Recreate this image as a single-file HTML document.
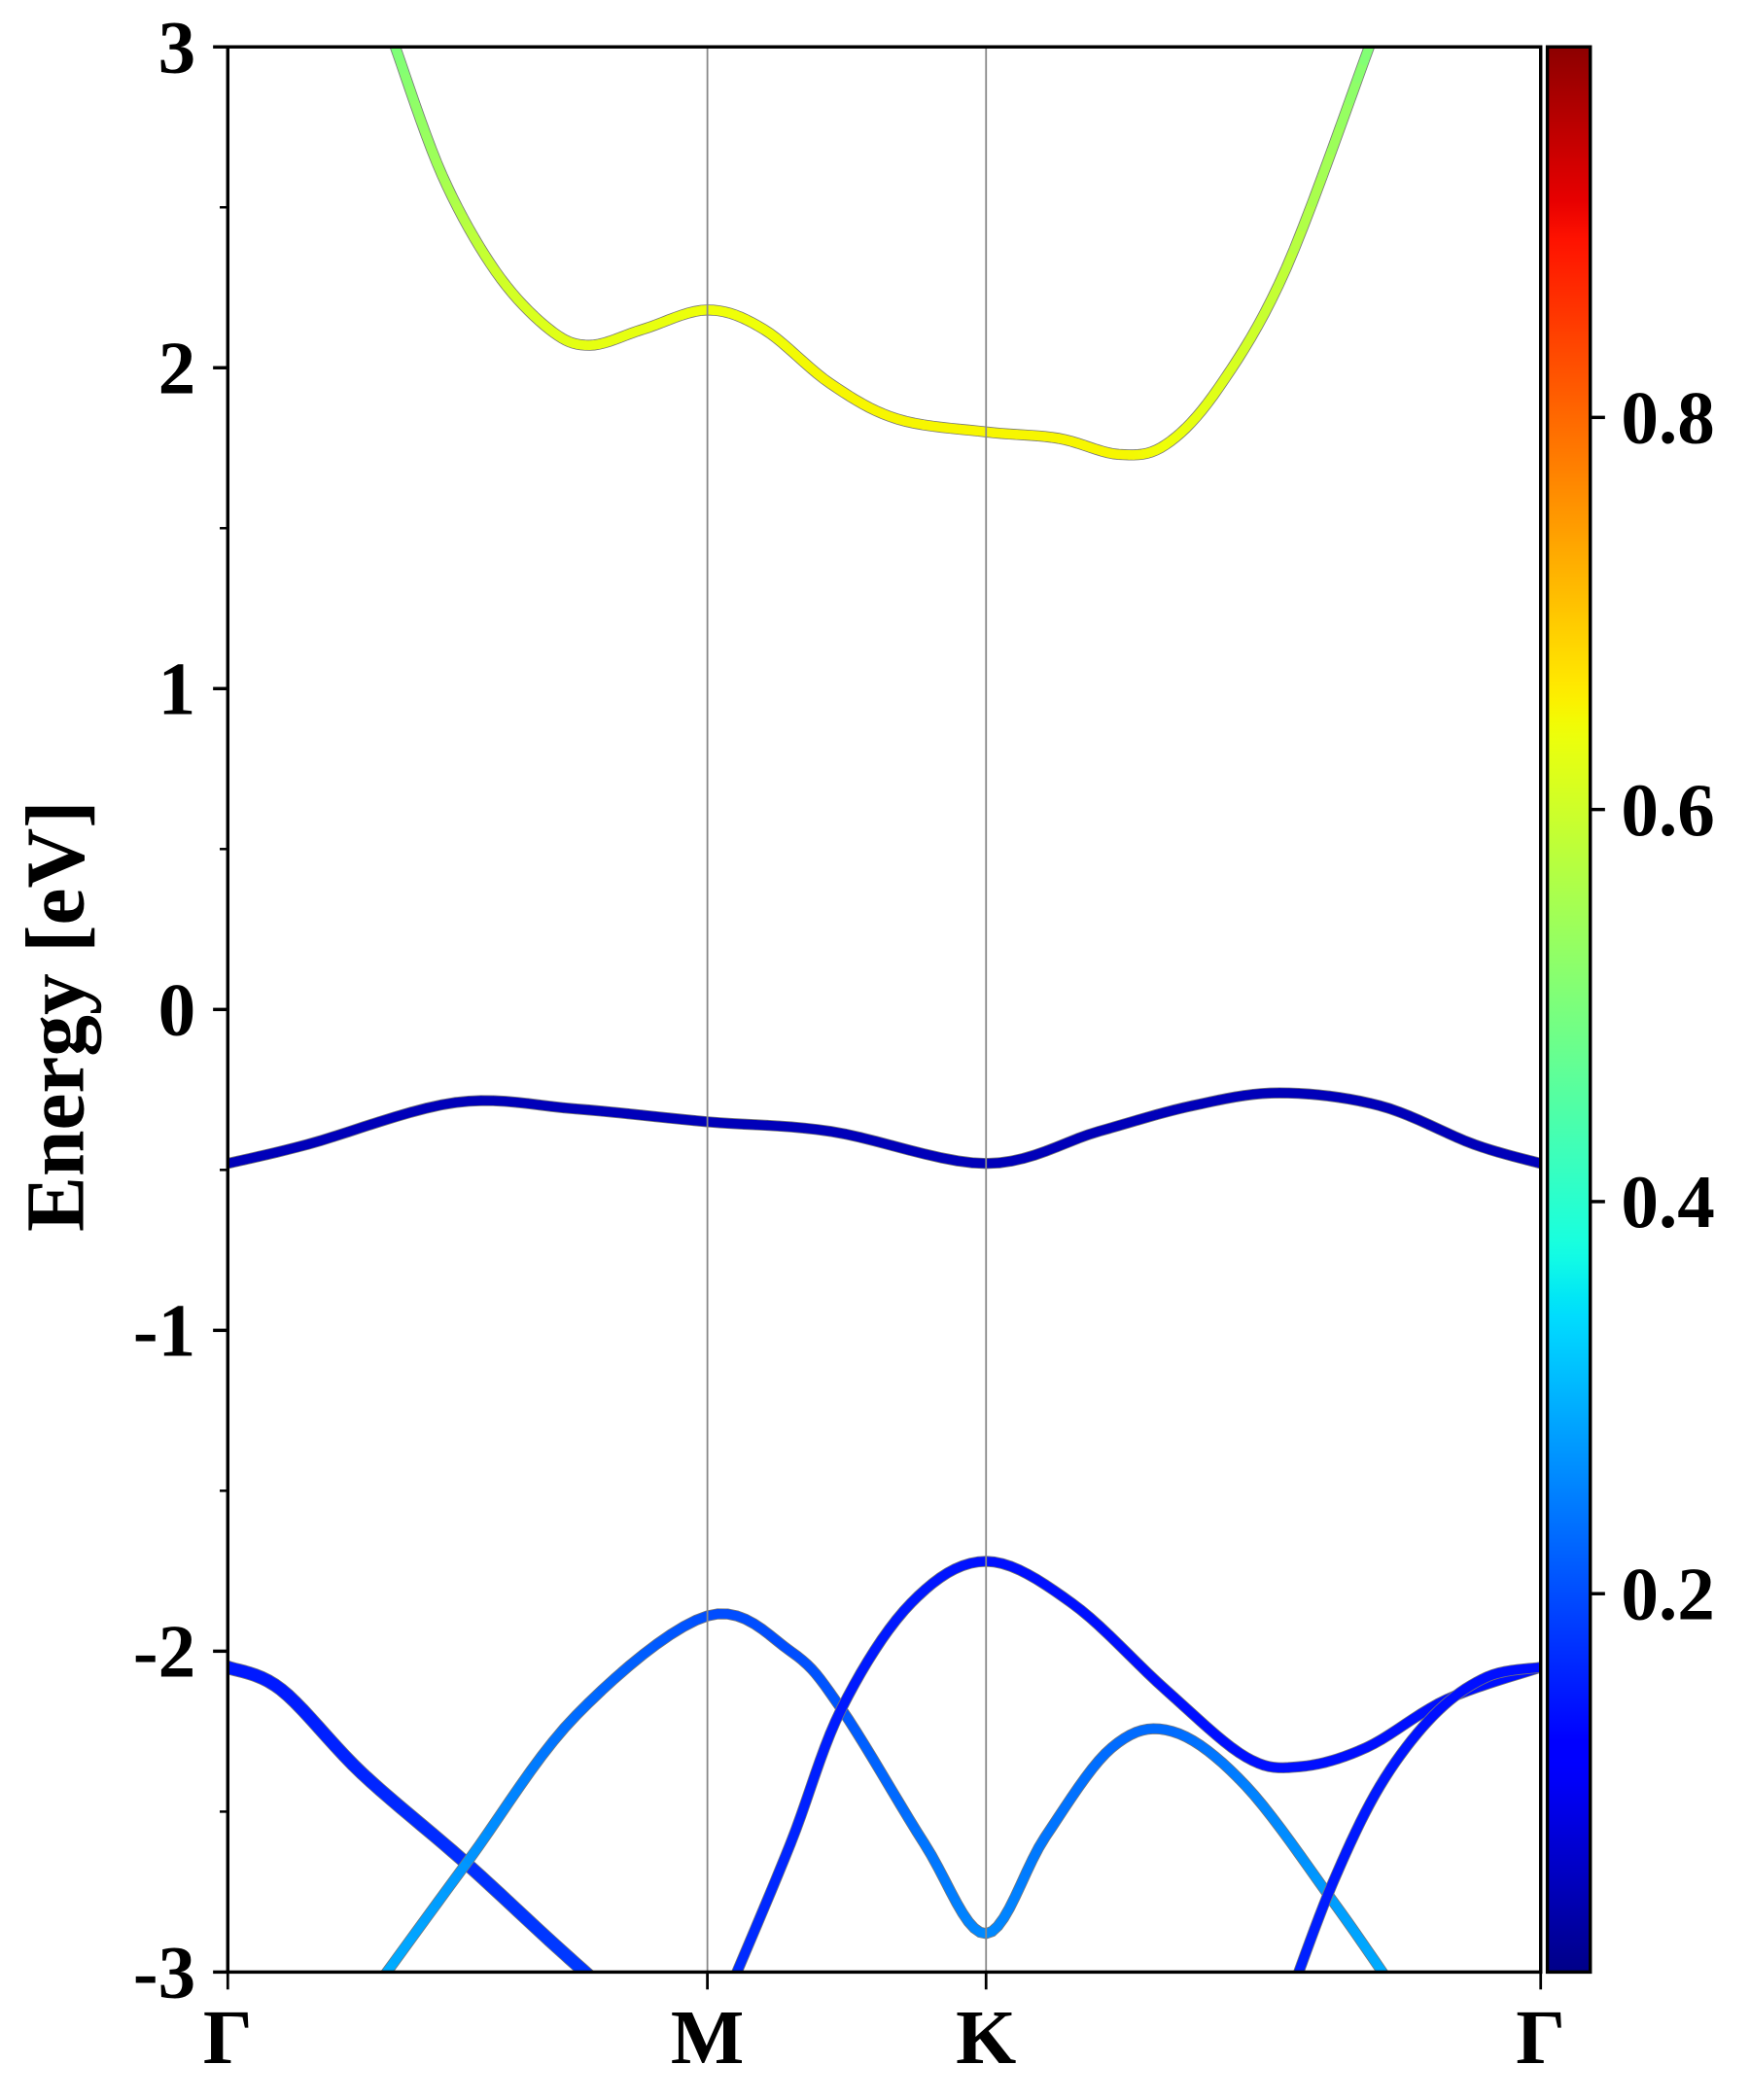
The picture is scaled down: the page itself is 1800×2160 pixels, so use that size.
<!DOCTYPE html>
<html><head><meta charset="utf-8"><style>
html,body{margin:0;padding:0;background:#fff;}
svg{display:block;}
text{font-family:"Liberation Serif","Times New Roman",serif;font-weight:bold;fill:#000;}
</style></head><body>
<svg id="chart" xmlns="http://www.w3.org/2000/svg" width="1800" height="2160" viewBox="0 0 1306.2 1567.5">
<defs>
<linearGradient id="jet" x1="0" y1="1" x2="0" y2="0"></linearGradient>
<clipPath id="plotclip"><rect x="170" y="35" width="980" height="1437"/></clipPath>
</defs>
<g id="bands" clip-path="url(#plotclip)"></g>
<g id="axes"></g>
</svg>
<script>
const kLabels = ["Γ","M","K","Γ"];
const kTicks = [0, 358, 566, 980];
const yTicks = [-3,-2,-1,0,1,2,3];
const yMinor = [-2.5,-1.5,-0.5,0.5,1.5,2.5];
const cbTicks = [0.2,0.4,0.6,0.8];
const cbMin = 0.007, cbMax = 0.989;

const condK = [125,160,200,240,270,310,358,400,450,500,566,620,665,700,740,790,852];
const condE = [3.0,2.6,2.3,2.12,2.07,2.12,2.18,2.12,1.95,1.84,1.80,1.78,1.73,1.76,1.94,2.31,3.0];
const condW = [0.5,0.55,0.6,0.62,0.63,0.63,0.64,0.64,0.65,0.65,0.65,0.65,0.65,0.64,0.62,0.58,0.5];

const valK = [0,60,170,260,358,450,566,650,720,785,860,930,980];
const valE = [-0.48,-0.42,-0.29,-0.31,-0.35,-0.38,-0.48,-0.38,-0.3,-0.26,-0.3,-0.42,-0.48];
const valW = [0.05,0.05,0.05,0.05,0.05,0.05,0.05,0.05,0.05,0.05,0.05,0.05,0.05];

const bandAK = [0,40,100,175,240,280];
const bandAE = [-2.05,-2.12,-2.38,-2.65,-2.9,-3.05];
const bandAW = [0.15,0.15,0.16,0.17,0.18,0.18];

const bandBK = [110,180,260,358,420,458,520,566,610,660,705,760,825,870];
const bandBE = [-3.05,-2.65,-2.2,-1.89,-2.0,-2.18,-2.6,-2.88,-2.58,-2.3,-2.25,-2.42,-2.78,-3.05];
const bandBW = [0.3,0.27,0.23,0.2,0.2,0.21,0.24,0.26,0.24,0.23,0.23,0.25,0.28,0.3];

const bandCK = [375,420,458,510,566,630,700,760,800,850,910,980];
const bandCE = [-3.05,-2.6,-2.18,-1.85,-1.72,-1.85,-2.12,-2.33,-2.36,-2.3,-2.15,-2.05];
const bandCW = [0.17,0.16,0.15,0.15,0.14,0.14,0.14,0.14,0.14,0.14,0.14,0.14];

const bandDK = [795,825,860,900,940,980];
const bandDE = [-3.05,-2.72,-2.42,-2.2,-2.08,-2.05];
const bandDW = [0.16,0.15,0.15,0.14,0.14,0.14];

const X0=170, X1=1150, Y0=35, Y1=1472;
const xs = k => X0 + (k - kTicks[0])/(kTicks[3]-kTicks[0])*(X1-X0);
const ys = e => Y1 - (e - (-3))/6*(Y1-Y0);
const cbY = v => Y1 - (v-cbMin)/(cbMax-cbMin)*(Y1-Y0);
const NS="http://www.w3.org/2000/svg";
function mk(tag, attrs, parent){const el=document.createElementNS(NS,tag);for(const a in attrs)el.setAttribute(a,attrs[a]);parent.appendChild(el);return el;}
function lerp(pts,v){
  if(v<=pts[0][0])return pts[0][1];
  for(let i=1;i<pts.length;i++){if(v<=pts[i][0]){const t=(v-pts[i-1][0])/(pts[i][0]-pts[i-1][0]);return pts[i-1][1]+t*(pts[i][1]-pts[i-1][1]);}}
  return pts[pts.length-1][1];
}
function jet(v){
  const r=lerp([[0,0],[0.35,0],[0.66,1],[0.89,1],[1,0.5]],v);
  const g=lerp([[0,0],[0.125,0],[0.375,1],[0.64,1],[0.91,0],[1,0]],v);
  const b=lerp([[0,0.5],[0.11,1],[0.34,1],[0.65,0],[1,0]],v);
  return `rgb(${Math.round(r*255)},${Math.round(g*255)},${Math.round(b*255)})`;
}
const grad=document.getElementById('jet');
for(let i=0;i<=100;i++){
  const off=i/100, v=cbMin+off*(cbMax-cbMin);
  mk('stop',{offset:off,'stop-color':jet(v)},grad);
}
function spline(K,E,W){
  const pts=[];
  for(let i=0;i<K.length-1;i++){
    const p0=i>0?i-1:i, p3=i+2<K.length?i+2:i+1;
    for(let s=0;s<10;s++){
      const t=s/10,t2=t*t,t3=t2*t;
      const cr=(a,b,c,d)=>0.5*((2*b)+(-a+c)*t+(2*a-5*b+4*c-d)*t2+(-a+3*b-3*c+d)*t3);
      pts.push([cr(K[p0],K[i],K[i+1],K[p3]),cr(E[p0],E[i],E[i+1],E[p3]),W[i]+(W[i+1]-W[i])*t]);
    }
  }
  pts.push([K[K.length-1],E[E.length-1],W[W.length-1]]);
  return pts;
}
const bandsG=document.getElementById('bands');
const bandList=[[condK,condE,condW,'conduction-band',7],[valK,valE,valW,'valence-flat-band',7],
 [bandAK,bandAE,bandAW,'band-a',9],[bandBK,bandBE,bandBW,'band-b',7],[bandCK,bandCE,bandCW,'band-c',7],[bandDK,bandDE,bandDW,'band-d',7]];
bandList.forEach(([K,E,W,name,w])=>{
  const g=mk('g',{},bandsG);
  
  
  const pts=spline(K,E,W);
  const d='M'+pts.map(p=>xs(p[0]).toFixed(2)+','+ys(p[1]).toFixed(2)).join('L');
  mk('path',{d:d,fill:'none',stroke:'#777','stroke-width':w+1.2,'stroke-linecap':'round'},g);
  for(let i=0;i<pts.length-1;i++){
    mk('line',{x1:xs(pts[i][0]),y1:ys(pts[i][1]),x2:xs(pts[i+1][0]),y2:ys(pts[i+1][1]),stroke:jet(pts[i][2]),'stroke-width':w,'stroke-linecap':'round'},g);
  }
});
const ax=document.getElementById('axes');
const FF='"Liberation Serif","Times New Roman",serif';
kTicks.slice(1,3).forEach((k,i)=>{
  const l=mk('line',{x1:xs(k),x2:xs(k),y1:Y0,y2:Y1,stroke:'#888','stroke-width':1.3},ax);
  
  
});
const frame=mk('rect',{x:X0,y:Y0,width:X1-X0,height:Y1-Y0,fill:'none',stroke:'#000','stroke-width':2.5},ax);


yTicks.forEach(v=>{
  mk('line',{x1:X0-11,x2:X0,y1:ys(v),y2:ys(v),stroke:'#000','stroke-width':2.5},ax);
  const t=mk('text',{x:X0-24,y:ys(v)+19,'font-size':56,'text-anchor':'end','font-family':FF,'font-weight':'bold'},ax);
  t.textContent=v;
  
  
});
yMinor.forEach(v=>{mk('line',{x1:X0-6,x2:X0,y1:ys(v),y2:ys(v),stroke:'#000','stroke-width':1.8},ax);});
kTicks.forEach((k,i)=>{
  mk('line',{x1:xs(k),x2:xs(k),y1:Y1,y2:Y1+13,stroke:'#000','stroke-width':2},ax);
  const t=mk('text',{x:xs(k),y:Y1+68,'font-size':58,'text-anchor':'middle','font-family':FF,'font-weight':'bold'},ax);
  t.textContent=kLabels[i];
  
  
});
const yl=mk('text',{x:0,y:0,'font-size':62,'text-anchor':'middle','font-family':FF,'font-weight':'bold',transform:`translate(62,${(Y0+Y1)/2+5}) rotate(-90)`},ax);
yl.textContent='Energy [eV]';


const cb=mk('rect',{x:1155,y:Y0,width:32,height:Y1-Y0,fill:'url(#jet)',stroke:'#000','stroke-width':2.5},ax);


cbTicks.forEach(v=>{
  mk('line',{x1:1187,x2:1198,y1:cbY(v),y2:cbY(v),stroke:'#000','stroke-width':2.5},ax);
  const t=mk('text',{x:1210,y:cbY(v)+19,'font-size':56,'font-family':FF,'font-weight':'bold'},ax);
  t.textContent=v.toFixed(1);
  
  
});
</script>
</body></html>
